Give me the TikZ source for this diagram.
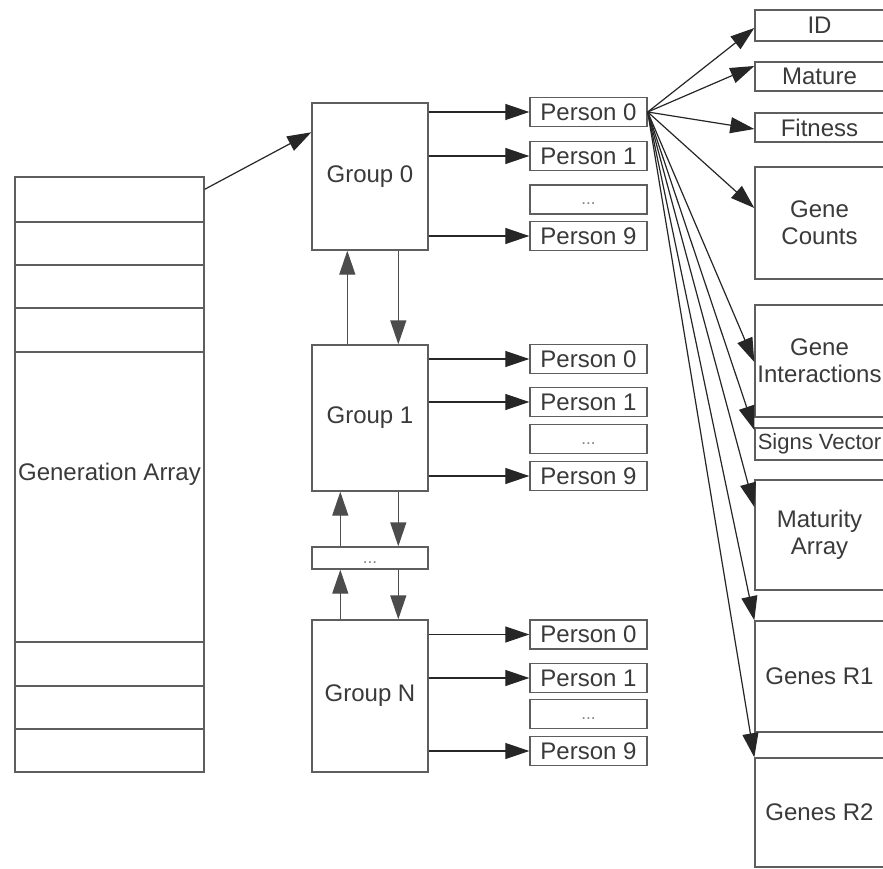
\documentclass[tikz,border=0pt]{standalone}
\usepackage{fontspec}
\setmainfont{Liberation Sans}
\usetikzlibrary{arrows.meta,calc}
\definecolor{txt}{HTML}{3A3A3A}
\definecolor{bord}{HTML}{5E5E5E}
\begin{document}
\begin{tikzpicture}[x=1pt,y=-1pt,
 box/.style={draw=bord,line width=1.4pt,rectangle,inner sep=0pt,text=txt,font=\fontsize{24}{27}\selectfont,align=center},
 pbox/.style={box,minimum width=117pt,minimum height=29pt},
 rbox/.style={box,minimum width=129pt},
 gbox/.style={box,minimum width=116pt},
 arr/.style={draw=black!85,line width=1.2pt,-{Triangle[length=24pt,width=16pt]}},
 varr/.style={arr,draw=black!70,line width=1.4pt},
 dotsfont/.style={font=\fontsize{17}{17}\selectfont,text=gray}
]
\useasboundingbox (0,0) rectangle (883,869);
\fill[white] (0,0) rectangle (883,869);

% Generation array
\node[box,minimum width=189pt,minimum height=595pt] (ga) at (109.5,474.5) {Generation Array};
\foreach \yy in {222,265,308,352,642,686,729}
  \draw[draw=bord,line width=1.4pt] (ga.west |- 0,\yy) -- (ga.east |- 0,\yy);

% Groups
\node[gbox,minimum height=147pt] (g0) at (370,176.5) {Group 0};
\node[gbox,minimum height=146pt] (g1) at (370,418) {Group 1};
\node[gbox,minimum height=22pt,dotsfont] (gd) at (370,558) {\smash{\raisebox{-5pt}{...}}};
\node[gbox,minimum height=152pt] (gN) at (370,696) {Group N};

% Persons of group 0
\node[pbox] (p0a) at (588.5,112) {Person 0};
\node[pbox] (p0b) at (588.5,156) {Person 1};
\node[pbox,dotsfont] (p0d) at (588.5,199.5) {\smash{\raisebox{-5pt}{...}}};
\node[pbox] (p0i) at (588.5,236) {Person 9};
% Persons of group 1
\node[pbox] (p1a) at (588.5,359) {Person 0};
\node[pbox] (p1b) at (588.5,402) {Person 1};
\node[pbox,dotsfont] (p1d) at (588.5,439) {\smash{\raisebox{-5pt}{...}}};
\node[pbox] (p1i) at (588.5,476) {Person 9};
% Persons of group N
\node[pbox] (pNa) at (588.5,634.5) {Person 0};
\node[pbox] (pNb) at (588.5,678) {Person 1};
\node[pbox,dotsfont] (pNd) at (588.5,714) {\smash{\raisebox{-5pt}{...}}};
\node[pbox] (pNi) at (588.5,751) {Person 9};

% Right column
\node[rbox,minimum height=31pt] (id) at (819.5,25.5) {ID};
\node[rbox,minimum height=29pt] (mat) at (819.5,76.5) {Mature};
\node[rbox,minimum height=29pt] (fit) at (819.5,127.5) {Fitness};
\node[rbox,minimum height=112pt] (gc) at (819.5,223) {Gene\\Counts};
\node[rbox,minimum height=112pt] (gi) at (819.5,361) {Gene\\Interactions};
\node[rbox,minimum height=32pt,font=\fontsize{22}{26}\selectfont] (sv) at (819.5,444) {Signs Vector};
\node[rbox,minimum height=110pt] (ma) at (819.5,535) {Maturity\\Array};
\node[rbox,minimum height=111pt] (r1) at (819.5,676.5) {Genes R1};
\node[rbox,minimum height=109pt] (r2) at (819.5,812.5) {Genes R2};

% Generation -> Group 0
\draw[arr] ([yshift=-13pt]ga.north east) -- ([yshift=-30pt]g0.north west);

% Group -> persons
\foreach \g/\p in {g0/p0a,g0/p0b,g0/p0i,g1/p1a,g1/p1b,g1/p1i,gN/pNa,gN/pNb,gN/pNi}
  \draw[arr] (\g.east |- \p.west) -- (\p.west);

% vertical links
\draw[varr] ([xshift=36pt]g1.north west) -- ([xshift=36pt]g0.south west);
\draw[varr] ([xshift=87pt]g0.south west) -- ([xshift=87pt]g1.north west);
\draw[varr] ([xshift=29pt]gd.north west) -- ([xshift=29pt]g1.south west);
\draw[varr] ([xshift=87pt]g1.south west) -- ([xshift=87pt]gd.north west);
\draw[varr] ([xshift=29pt]gN.north west) -- ([xshift=29pt]gd.south west);
\draw[varr] ([xshift=87pt]gd.south west) -- ([xshift=87pt]gN.north west);

% Person 0 -> fields
\draw[arr] (p0a.east) -- ([yshift=-2.5pt]id.west);
\draw[arr] (p0a.east) -- ([yshift=10.5pt]mat.west);
\draw[arr] (p0a.east) -- ([yshift=-1.5pt]fit.west);
\draw[arr] (p0a.east) -- ([yshift=15pt]gc.west);
\draw[arr] (p0a.east) -- ([yshift=-1pt]gi.west);
\draw[arr] (p0a.east) -- ([yshift=14pt]sv.west);
\draw[arr] (p0a.east) -- ([yshift=28pt]ma.west);
\draw[arr] (p0a.east) -- (r1.north west);
\draw[arr] (p0a.east) -- (r2.north west);
\end{tikzpicture}
\end{document}
